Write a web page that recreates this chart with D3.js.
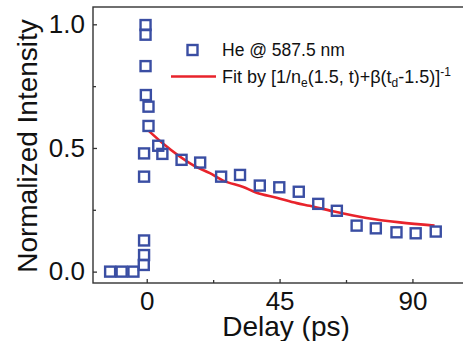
<!DOCTYPE html>
<html>
<head>
<meta charset="utf-8">
<script src="https://cdn.jsdelivr.net/npm/d3@7"></script>
<style>
  body { margin: 0; background: #fff; }
  svg { display: block; font-family: "Liberation Sans", Arial, sans-serif; }
  .axis path { display: none; }
  .axis line { stroke: #333; stroke-width: 1.3; }
  .axis text { font-size: 26px; fill: #111; }
</style>
</head>
<body>
<script>
let delay = [-12.4, -8.5, -4.5, -1.0, -0.9, -0.9, -0.9, -0.9, -0.4, -0.4, -0.4, -0.3, 0.6, 0.6,
  3.9, 5.3, 11.8, 18.1, 25.2, 31.6, 38.3, 44.9, 51.5, 58.1, 64.4, 71.1, 77.6, 84.6, 91.1, 97.9];
let intensity = [0, 0, 0, 0.027, 0.067, 0.126, 0.384, 0.478, 0.997, 0.958, 0.831, 0.714, 0.667, 0.589,
  0.509, 0.476, 0.452, 0.441, 0.384, 0.391, 0.348, 0.341, 0.323, 0.274, 0.246, 0.186, 0.175, 0.159, 0.155, 0.162];

// fit curve, sampled off the figure
let fitDelay = [0.6, 5.6, 15.8, 21.4, 25.9, 32.7, 37.2, 44, 50.8, 55.2, 63.1, 74.4, 85.7, 97.5];
let fitValue = [0.570, 0.517, 0.430, 0.398, 0.368, 0.342, 0.319, 0.299, 0.277, 0.266, 0.244, 0.217, 0.199, 0.186];

let xTicks = [0, 45, 90];
let xMinor = [22.5, 67.5];
let yTicks = [0, 0.5, 1.0];
let yMinor = [0.25, 0.75];

let width = 463, height = 341;
let plot = { left: 93, right: 470, top: 7, bottom: 283 };

let svg = d3.select('body').append('svg')
    .attr('width', width)
    .attr('height', height);

let x = d3.scaleLinear().domain([-18.2, 109.5]).range([plot.left, plot.right]);
let y = d3.scaleLinear().domain([-0.046, 1.07]).range([plot.bottom, plot.top]);

// frame
svg.append('rect')
    .attr('x', plot.left)
    .attr('y', plot.top)
    .attr('width', plot.right - plot.left)
    .attr('height', plot.bottom - plot.top)
    .attr('fill', 'none')
    .attr('stroke', '#333')
    .attr('stroke-width', 1.4);

// axes, ticks point inward
svg.append('g')
    .attr('class', 'x axis')
    .attr('transform', 'translate(0,' + plot.bottom + ')')
    .call(d3.axisBottom(x).tickValues(xTicks).tickSize(-4).tickPadding(9).tickFormat(d3.format('d')));
svg.append('g')
    .attr('class', 'x axis')
    .attr('transform', 'translate(0,' + plot.bottom + ')')
    .call(d3.axisBottom(x).tickValues(xMinor).tickSize(-3).tickFormat(''));

svg.append('g')
    .attr('class', 'y axis')
    .attr('transform', 'translate(' + plot.left + ',0)')
    .call(d3.axisLeft(y).tickValues(yTicks).tickSize(-4).tickPadding(8).tickFormat(d3.format('.1f')));
svg.append('g')
    .attr('class', 'y axis')
    .attr('transform', 'translate(' + plot.left + ',0)')
    .call(d3.axisLeft(y).tickValues(yMinor).tickSize(-3).tickFormat(''));

// axis titles
svg.append('text')
    .attr('x', 286)
    .attr('y', 336)
    .attr('text-anchor', 'middle')
    .style('font-size', '28px')
    .attr('fill', '#111')
    .text('Delay (ps)');

svg.append('text')
    .attr('transform', 'translate(37,146) rotate(-90)')
    .attr('text-anchor', 'middle')
    .style('font-size', '28px')
    .attr('fill', '#111')
    .text('Normalized Intensity');

let blue = '#3a4ea3';
let red = '#e8232b';

// fit line
let fitData = fitDelay.map(function(d, i){ return { t: d, v: fitValue[i] }; });
let fitLine = d3.line()
    .x(function(d){ return x(d.t); })
    .y(function(d){ return y(d.v); })
    .curve(d3.curveMonotoneX);

svg.append('path')
    .datum(fitData)
    .attr('d', fitLine)
    .attr('fill', 'none')
    .attr('stroke', red)
    .attr('stroke-width', 2.6);

// data squares
let s = 10;
let points = delay.map(function(d, i){ return { t: d, v: intensity[i] }; });
svg.selectAll('.pt')
    .data(points)
  .enter().append('rect')
    .attr('class', 'pt')
    .attr('x', function(d){ return x(d.t) - s / 2; })
    .attr('y', function(d){ return y(d.v) - s / 2; })
    .attr('width', s)
    .attr('height', s)
    .attr('fill', 'none')
    .attr('stroke', blue)
    .attr('stroke-width', 2.4);

// legend
let legend = svg.append('g').attr('fill', '#111');

legend.append('rect')
    .attr('x', 192.5 - s / 2)
    .attr('y', 50 - s / 2)
    .attr('width', s)
    .attr('height', s)
    .attr('fill', 'none')
    .attr('stroke', blue)
    .attr('stroke-width', 2.4);

legend.append('text')
    .attr('x', 222)
    .attr('y', 56)
    .style('font-size', '17.5px')
    .text('He @ 587.5 nm');

legend.append('line')
    .attr('x1', 171)
    .attr('x2', 216)
    .attr('y1', 76.5)
    .attr('y2', 76.5)
    .attr('stroke', red)
    .attr('stroke-width', 2.6);

let fitText = legend.append('text')
    .attr('x', 222)
    .attr('y', 83)
    .style('font-size', '18px');
fitText.append('tspan').text('Fit by [1/n');
fitText.append('tspan').attr('dy', 4).style('font-size', '12px').text('e');
fitText.append('tspan').attr('dy', -4).text('(1.5, t)+\u03b2(t');
fitText.append('tspan').attr('dy', 4).style('font-size', '12px').text('d');
fitText.append('tspan').attr('dy', -4).text('-1.5)]');
fitText.append('tspan').attr('dy', -7).style('font-size', '12px').text('-1');
</script>
</body>
</html>
